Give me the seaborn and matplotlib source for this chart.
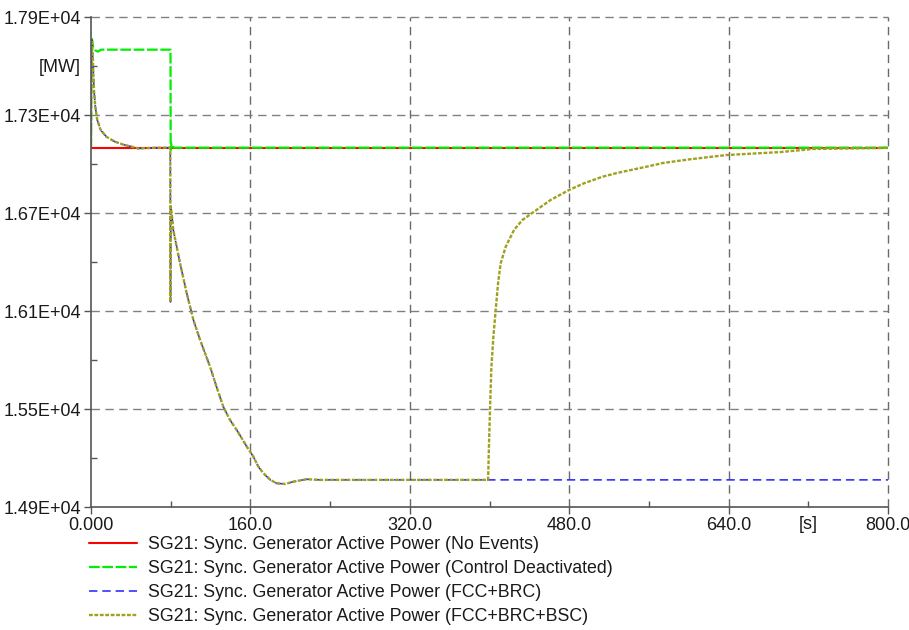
import numpy as np
import pandas as pd
import matplotlib
matplotlib.use("Agg")
import matplotlib.pyplot as plt
import seaborn as sns
from matplotlib.ticker import FixedLocator, FixedFormatter

# ---------------- data ----------------
labels = [
    "SG21: Sync. Generator Active Power (No Events)",
    "SG21: Sync. Generator Active Power (Control Deactivated)",
    "SG21: Sync. Generator Active Power (FCC+BRC)",
    "SG21: Sync. Generator Active Power (FCC+BRC+BSC)",
]

t_no_events = [0, 800]
p_no_events = [17100, 17100]

t_ctrl_off = [0, 0.5, 1.0, 2.0, 3.7, 7, 10, 79.8, 80.0, 80.8, 81.6, 83, 800]
p_ctrl_off = [17100, 17740, 17765, 17720, 17698, 17688, 17700, 17700, 17085, 17125,
              17118, 17100, 17100]

# common trajectory (FCC+BRC and FCC+BRC+BSC identical up to ~398 s)
t_common = [0, 0.5, 1.0, 2.0, 3.0, 4.3, 6.3, 9.7, 15.4, 23.8, 33.8, 43.7, 47, 55,
            65, 79.6, 79.8, 80.1, 81.0, 82.6, 86.0, 89.4, 96.1, 102.8, 109.5,
            119.5, 126, 132.8, 139.5, 146.2, 151.3, 156.3, 163, 168, 173, 180,
            186.4, 195, 203, 216.5, 229.9, 398.6]
p_common = [17100, 17700, 17759, 17618, 17453, 17351, 17269, 17208, 17167, 17137,
            17116, 17102, 17095, 17097, 17100, 17100, 16155, 16740, 16698, 16596,
            16494, 16392, 16208, 16045, 15923, 15759, 15636, 15514, 15433, 15372,
            15321, 15270, 15208, 15147, 15107, 15066, 15045, 15041, 15055, 15070,
            15066, 15066]

t_brc_tail = [800]
p_brc_tail = [15066]

t_bsc_tail = [399.6, 400.6, 401.9, 403.9, 406.2, 408.6, 411.2, 416.3, 424.6, 433,
              444.7, 461.4, 479.9, 494.9, 513.3, 528, 561, 574, 600, 638, 692,
              725, 792, 800]
p_bsc_tail = [15310, 15514, 15759, 15943, 16106, 16270, 16392, 16494, 16596, 16657,
              16708, 16780, 16841, 16882, 16922, 16945, 16988, 17006, 17028, 17055,
              17073, 17092, 17098, 17100]

x_major = [0, 160, 320, 480, 640, 800]
x_major_labels = ["0.000", "160.0", "320.0", "480.0", "640.0", "800.0"]
x_minor = [80, 240, 400, 560, 720]
y_major = [14900, 15500, 16100, 16700, 17300, 17900]
y_major_labels = ["1.49E+04", "1.55E+04", "1.61E+04", "1.67E+04", "1.73E+04", "1.79E+04"]
y_minor = [15200, 15800, 16400, 17000, 17600]

# ---------------- styling ----------------
sns.set_style("white")
plt.rcParams["font.family"] = ["Liberation Sans", "DejaVu Sans"]
FS = 13
LFS = 12.8
plt.rcParams["font.size"] = FS

fig = plt.figure(figsize=(9.09, 6.30), dpi=100)
ax = fig.add_axes([91 / 909, 1 - 507 / 630, 797 / 909, 490 / 630])

grid_col = "#6a6a6a"
for xv in x_major[1:]:
    ax.axvline(xv, color=grid_col, lw=1.0, linestyle=(0, (6, 4)), zorder=0, clip_on=False)
for yv in y_major[1:]:
    ax.axhline(yv, color="#808080", lw=1.0, linestyle=(0, (6, 4)), zorder=0, clip_on=False)

df_red = pd.DataFrame({"t": t_no_events, "p": p_no_events})
df_green = pd.DataFrame({"t": t_ctrl_off, "p": p_ctrl_off})
df_blue = pd.DataFrame({"t": t_common + t_brc_tail, "p": p_common + p_brc_tail})
df_olive = pd.DataFrame({"t": t_common + t_bsc_tail, "p": p_common + p_bsc_tail})

common_kw = dict(x="t", y="p", ax=ax, estimator=None, sort=False, legend=False)
legend_lines = []
sns.lineplot(data=df_red, color="#ff0000", lw=1.5, linestyle="-", **common_kw)
legend_lines.append(ax.get_lines()[-1])
sns.lineplot(data=df_green, color="#00ee00", lw=1.6, linestyle=(0, (4.8, 1.2)), **common_kw)
legend_lines.append(ax.get_lines()[-1])
sns.lineplot(data=df_blue, color="#2020ff", lw=1.1, linestyle=(0, (5.5, 3.2)), **common_kw)
legend_lines.append(ax.get_lines()[-1])
sns.lineplot(data=df_olive, color="#a0a020", lw=1.7, linestyle=(0, (1.6, 0.7)), **common_kw)
legend_lines.append(ax.get_lines()[-1])

ax.set_xlim(0, 800)
ax.set_ylim(14900, 17900)
ax.set_xlabel("")
ax.set_ylabel("")

ax.xaxis.set_major_locator(FixedLocator(x_major))
ax.xaxis.set_major_formatter(FixedFormatter(x_major_labels))
ax.xaxis.set_minor_locator(FixedLocator(x_minor))
ax.yaxis.set_major_locator(FixedLocator(y_major))
ax.yaxis.set_major_formatter(FixedFormatter(y_major_labels))
ax.yaxis.set_minor_locator(FixedLocator(y_minor))

ax.tick_params(axis="both", which="major", direction="out", length=5, width=1,
               color="#555555", labelsize=FS, labelcolor="#1a1a1a", pad=2,
               bottom=True, left=True)
ax.tick_params(axis="both", which="minor", direction="in", length=4, width=1,
               color="#555555", bottom=True, left=True)

for s in ["top", "right"]:
    ax.spines[s].set_visible(False)
for s in ["left", "bottom"]:
    ax.spines[s].set_color("#555555")
    ax.spines[s].set_linewidth(1.2)

fig.text(81 / 909, 1 - 68 / 630, "[MW]", ha="right", va="center", fontsize=FS, color="#1a1a1a")
ax.text(720, -0.018, "[s]", transform=ax.get_xaxis_transform(), ha="center", va="top",
        fontsize=FS, color="#1a1a1a")

leg = fig.legend(legend_lines, labels, loc="upper left", bbox_to_anchor=(89 / 909, 1 - 536 / 630),
                 frameon=False, fontsize=LFS, handlelength=2.7, handletextpad=0.6,
                 labelspacing=0.4, borderpad=0, borderaxespad=0)
for txt in leg.get_texts():
    txt.set_color("#1a1a1a")

fig.savefig("out.png", dpi=100)
